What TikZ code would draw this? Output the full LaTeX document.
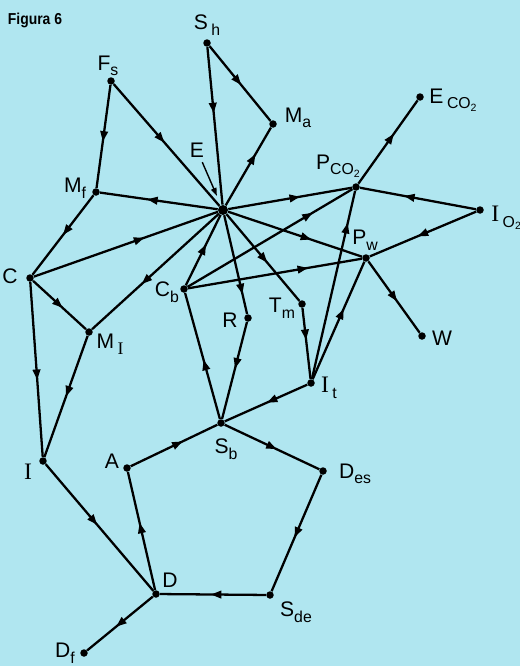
\documentclass[tikz,border=0pt]{standalone}
\usepackage{fontspec}
\setmainfont{Liberation Sans}
\newfontfamily\serifI[Scale=1.12]{Liberation Serif}
\usepackage{tikz}
\usetikzlibrary{
    arrows.meta,              % Required for "Triangle" arrowheads
    decorations.markings      % Required for the arrows half-way along a line
}

\definecolor{paper}{RGB}{176,230,240}
\newcommand{\sub}[1]{\raisebox{-0.5ex}{\fontsize{9}{10}\selectfont #1}}
\newcommand{\two}{\raisebox{-0.35ex}{\fontsize{6}{7}\selectfont 2}}
\newcommand{\Iser}{{\serifI I}}

\tikzset{
    pt/.style={circle, fill=black, inner sep=0pt, minimum size=0.15cm},
    lbl/.style={inner sep=0pt, font=\fontsize{12}{14}\selectfont},
    flow/.style={line width=1.3pt, postaction={decorate},
        decoration={markings, mark=at position #1 with {\arrow{Triangle[length=2.1mm,width=1.5mm]}}}},
    flow/.default=0.5
}

\begin{document}
\begin{tikzpicture}[x=0.02cm, y=-0.02cm]
        % Paper
        \fill[paper] (0,0) rectangle (520,666);
        \useasboundingbox (0,0) rectangle (520,666);
        \node[font=\bfseries\fontsize{9}{10}\selectfont, xscale=0.88] (title) at (35,20) {Figura 6};

        % Points
        \node[pt] (Sh) at (207,43) {};
        \node[pt] (Fs) at (111,81) {};
        \node[pt] (Ma) at (273,124) {};
        \node[pt] (Ec) at (420,97) {};
        \node[pt, minimum size=0.2cm] (E) at (223,210) {};
        \node[pt] (Mf) at (96,192) {};
        \node[pt] (Pc) at (356,187) {};
        \node[pt] (Io) at (480,210) {};
        \node[pt] (Pw) at (366,258) {};
        \node[pt] (C) at (30,278) {};
        \node[pt] (Cb) at (184,289) {};
        \node[pt] (MI) at (89,332) {};
        \node[pt] (R) at (248,318) {};
        \node[pt] (Tm) at (302,304) {};
        \node[pt] (W) at (422,336) {};
        \node[pt] (It) at (311,383) {};
        \node[pt] (Sb) at (221,423) {};
        \node[pt] (A) at (127,468) {};
        \node[pt] (Des) at (323,471) {};
        \node[pt] (I) at (43,461) {};
        \node[pt] (D) at (156,594) {};
        \node[pt] (Sde) at (270,595) {};
        \node[pt] (Df) at (84,653) {};

        % Labels
        \node[lbl] (Sh-l) at (207,25) {S\,\sub{h}};
        \node[lbl] (Fs-l) at (108,66) {F\sub{s}};
        \node[lbl] (Ma-l) at (298,118) {M\sub{a}};
        \node[lbl] (Ec-l) at (453,100) {E\,\sub{CO\two}};
        \node[lbl] (E-l) at (197,150) {E};
        \node[lbl] (Mf-l) at (75,188) {M\sub{f}};
        \node[lbl] (Pc-l) at (338,166) {P\sub{CO\two}};
        \node[lbl, anchor=west] (Io-l) at (491,218) {\Iser\,\sub{O\two}};
        \node[lbl] (Pw-l) at (365,240) {P\sub{w}};
        \node[lbl] (C-l) at (10,276) {C};
        \node[lbl] (Cb-l) at (167,292) {C\sub{b}};
        \node[lbl] (MI-l) at (110,344) {M\,\sub{\Iser}};
        \node[lbl] (R-l) at (230,320) {R};
        \node[lbl] (Tm-l) at (282,308) {T\sub{m}};
        \node[lbl] (W-l) at (442,338) {W};
        \node[lbl] (It-l) at (329,388) {\Iser\,\sub{t}};
        \node[lbl] (Sb-l) at (226,449) {S\sub{b}};
        \node[lbl] (A-l) at (112,461) {A};
        \node[lbl] (Des-l) at (355,474) {D\sub{es}};
        \node[lbl] (I-l) at (28,472) {\Iser};
        \node[lbl] (D-l) at (170,580) {D};
        \node[lbl] (Sde-l) at (296,612) {S\sub{de}};
        \node[lbl] (Df-l) at (65,653) {D\sub{f}};

        % Pointer to E
        \draw[line width=0.8pt, shorten <=0.1cm, shorten >=0.2cm, -{Triangle[length=1.6mm,width=1.1mm]}] (E-l) -- (E);

        % Flows
        \foreach \a/\b/\p in {Sh/E/0.42, Sh/Ma/0.52, Fs/Mf/0.55, Fs/E/0.48, E/Ma/0.66,
            E/Mf/0.6, E/Pc/0.58, Pc/Ec/0.6, Io/Pc/0.62, Io/Pw/0.55, E/Pw/0.62,
            Cb/Pc/0.76, Cb/Pw/0.69, Cb/E/0.58, C/E/0.6, E/MI/0.61, Mf/C/0.5,
            C/MI/0.56, C/I/0.56, MI/I/0.5, I/D/0.48, D/A/0.57, A/Sb/0.6,
            Sb/Des/0.55, Des/Sde/0.54, Sde/D/0.52, D/Df/0.56, Sb/Cb/0.47,
            R/Sb/0.48, E/R/0.8, E/Tm/0.56, Tm/It/0.45, It/Pc/0.83, It/Pw/0.6,
            It/Sb/0.49, Pw/W/0.56}
            \draw[flow=\p] (\a) -- (\b);
    \end{tikzpicture}
\end{document}
